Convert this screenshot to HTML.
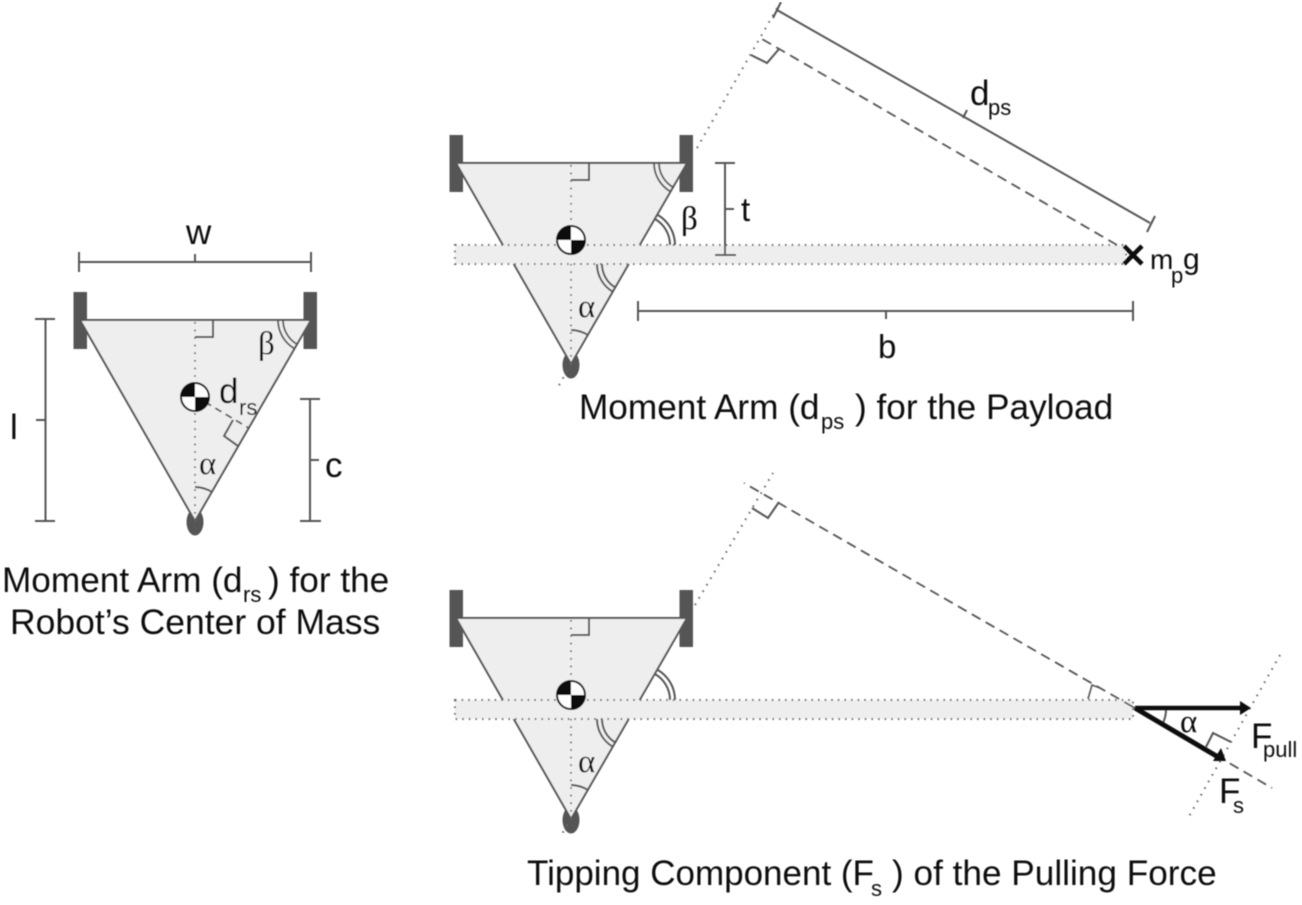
<!DOCTYPE html>
<html><head><meta charset="utf-8"><style>
html,body{margin:0;padding:0;background:#fff}
svg{display:block}
text{font-family:"Liberation Sans",sans-serif;fill:#111}
.l{stroke:#555;stroke-width:2;fill:none}
.d{stroke:#666;stroke-width:2;fill:none;stroke-dasharray:1.6 6}
.da{stroke:#555;stroke-width:1.8;fill:none;stroke-dasharray:10 6}
.g{font-family:"Liberation Serif",serif}
</style></head><body>
<svg width="1302" height="905" viewBox="0 0 1302 905" xmlns="http://www.w3.org/2000/svg">
<defs>
<filter id="soft" x="0" y="0" width="100%" height="100%"><feGaussianBlur stdDeviation="0.5"/></filter>
<g id="robot">
<ellipse cx="195" cy="522" rx="8.5" ry="13.5" fill="#555"/>
<rect x="73.5" y="292" width="13.5" height="57" fill="#555"/>
<rect x="303.5" y="292" width="13.5" height="57" fill="#555"/>
<path d="M80 320H311L195 521Z" fill="#eee" stroke="#555" stroke-width="2"/>
<path d="M195 322V521" class="d"/>
<path d="M195 337H213V321" class="l"/>
<path d="M195 487A34 34 0 0 1 212 492" class="l"/>
</g>
<g id="com">
<circle cx="195" cy="397" r="14" fill="#fff" stroke="#111" stroke-width="2"/>
<path d="M195 397V383A14 14 0 0 0 181 397ZM195 397V411A14 14 0 0 0 209 397Z" fill="#111"/>
</g>
<g id="betaT" fill="none" stroke="#555" stroke-width="1.8">
<path d="M278 320A33 33 0 0 0 294.500 348.600"/>
<path d="M283 320A28 28 0 0 0 297 344.200"/>
</g>
</defs>

<g filter="url(#soft)">
<!-- Left robot -->
<use href="#robot"/>
<use href="#betaT"/>
<path d="M205 402L248.700 428" class="da" style="stroke-dasharray:7 5"/>
<path d="M233 420L224 436L238 446" class="l"/>
<use href="#com"/>
<path d="M79 252V272M311 252V272M79 262H311M195 254V262" class="l"/>
<path d="M35 319H55M35 521H55M45.500 319V521M36 420H45" class="l"/>
<path d="M300 399H320M300 521H321M310 399V521M310 460H319" class="l"/>
<text x="186" y="244" font-size="35">w</text>
<text x="10" y="439" font-size="35">l</text>
<text x="325" y="477" font-size="35">c</text>
<text x="219" y="403" font-size="35">d</text>
<text x="239" y="415" font-size="22">rs</text>
<text x="258" y="354" font-size="33" class="g">β</text>
<text x="199" y="474" font-size="33" class="g">α</text>
<text x="2" y="592" font-size="35.200">Moment Arm (d</text>
<text x="243" y="602" font-size="22">rs</text>
<text x="268" y="592" font-size="35.200">) for the</text>
<text x="10" y="634" font-size="35.500">Robot’s Center of Mass</text>

<!-- Top robot -->
<g transform="translate(376,-157)"><use href="#robot"/><use href="#betaT"/></g>
<path d="M455 245H1126V264H455Z" fill="#eee" stroke="#666" stroke-width="2" stroke-dasharray="1.6 5"/>
<path d="M675 245A35 35 0 0 0 657.500 214.700M670 245A30 30 0 0 0 655 219" class="l"/>
<path d="M597 264A32 32 0 0 0 612.700 291.700M602 264A27 27 0 0 0 615.200 287.400" class="l"/>
<g transform="translate(376,-157)"><use href="#com"/></g>
<path d="M571 364L558 387" class="d"/>
<path d="M697 148L780 3" class="d"/>
<path d="M1117 245L762 39" class="da"/>
<path d="M779 49L767 63L751 55" class="l"/>
<path d="M777 10L1150 223M773 18L781 2M1147 232L1155 216M967 110L963 118" class="l"/>
<path d="M715 163H735M725 163V255M715 255H736M725 209H734" class="l"/>
<path d="M638 301V321M1133 301V321M638 311H1133M886 311V319" class="l"/>
<path d="M1124 246L1142 264M1142 246L1124 264" stroke="#111" stroke-width="4.500" fill="none"/>
<text x="970" y="105" font-size="35">d</text>
<text x="988" y="115" font-size="22">ps</text>
<text x="741" y="221" font-size="33">t</text>
<text x="681" y="229" font-size="33" class="g">β</text>
<text x="578" y="317" font-size="33" class="g">α</text>
<text x="1150" y="269" font-size="28">m</text>
<text x="1171" y="283" font-size="22">p</text>
<text x="1183" y="269" font-size="30">g</text>
<text x="878" y="358" font-size="33">b</text>
<text x="579" y="419" font-size="35.200">Moment Arm (d</text>
<text x="821" y="429" font-size="22">ps</text>
<text x="855" y="419" font-size="35.200">) for the Payload</text>

<!-- Bottom robot -->
<g transform="translate(376,298)"><use href="#robot"/></g>
<path d="M455 700H1133V719H455Z" fill="#eee" stroke="#666" stroke-width="2" stroke-dasharray="1.6 5"/>
<path d="M675 700A35 35 0 0 0 657.500 669.700M670 700A30 30 0 0 0 655 674" class="l"/>
<path d="M597 719A32 32 0 0 0 612.700 746.700M602 719A27 27 0 0 0 615.200 742.400" class="l"/>
<g transform="translate(376,298)"><use href="#com"/></g>
<path d="M571 818L562 834" class="d"/>
<path d="M695 605L773 473" class="d"/>
<path d="M1133 707L744 483" class="da"/>
<path d="M1133 707L1272 788" class="da"/>
<path d="M779 502L768 518L752 508" class="l"/>
<path d="M1088 699L1092 685L1100 688" class="l" style="stroke-width:1.600"/>
<path d="M1280 655L1187 820" class="d"/>
<path d="M1206 747L1213 733L1231 742" class="l"/>
<path d="M1166 710A32 32 0 0 1 1163 723" class="l"/>
<path d="M1135 708H1243" stroke="#111" stroke-width="4.500" fill="none"/>
<path d="M1251 708L1240 701V715Z" fill="#111"/>
<path d="M1135 708L1218 757" stroke="#111" stroke-width="5" fill="none"/>
<path d="M1226 761L1213 761L1221 748Z" fill="#111"/>
<text x="1180" y="732" font-size="33" class="g">α</text>
<text x="1251" y="748" font-size="35">F</text>
<text x="1263" y="757" font-size="22">pull</text>
<text x="1219" y="803" font-size="35">F</text>
<text x="1233" y="813" font-size="22">s</text>
<text x="578" y="772" font-size="33" class="g">α</text>
<text x="527" y="885" font-size="35">Tipping Component (F</text>
<text x="871" y="896" font-size="22">s</text>
<text x="892" y="885" font-size="35.200">) of the Pulling Force</text>
</g>
</svg>
</body></html>
